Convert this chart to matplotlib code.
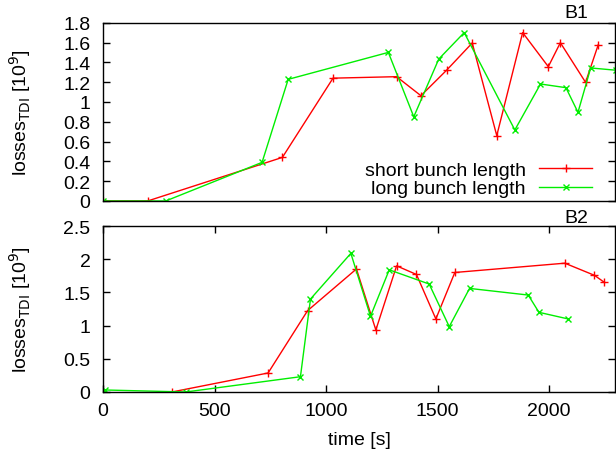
import matplotlib
matplotlib.use("Agg")
import matplotlib.pyplot as plt

plt.rcParams['font.family'] = ['Liberation Sans', 'DejaVu Sans']

# B1 data
b1_short_t = [0, 200, 804, 1031, 1316, 1425, 1540, 1655, 1765, 1881, 1996, 2050, 2163, 2220]
b1_short_v = [0, 0, 0.44, 1.24, 1.255, 1.063, 1.32, 1.595, 0.66, 1.70, 1.356, 1.598, 1.198, 1.578]
b1_long_t = [0, 281, 713, 830, 1279, 1393, 1505, 1619, 1846, 1961, 2075, 2129, 2186, 2300]
b1_long_v = [0, 0, 0.39, 1.228, 1.50, 0.85, 1.433, 1.70, 0.717, 1.181, 1.144, 0.895, 1.343, 1.32]

# B2 data
b2_short_t = [309, 740, 917, 1136, 1223, 1316, 1405, 1492, 1577, 2070, 2203, 2247]
b2_short_v = [0, 0.286, 1.225, 1.853, 0.934, 1.90, 1.77, 1.10, 1.80, 1.94, 1.757, 1.652]
b2_long_t = [8, 371, 885, 930, 1111, 1199, 1283, 1462, 1552, 1643, 1906, 1954, 2085]
b2_long_v = [0.03, 0, 0.23, 1.40, 2.088, 1.14, 1.84, 1.626, 0.984, 1.56, 1.46, 1.20, 1.10]

red = '#ff0000'
green = '#00ee00'
fs = 14

fig = plt.figure(figsize=(6.16, 4.6), dpi=100)
ax1 = fig.add_axes([0.1672, 0.5609, 0.8312, 0.3876])
ax2 = fig.add_axes([0.1672, 0.1457, 0.8312, 0.3608])

ax1.plot(b1_short_t, b1_short_v, color=red, lw=1, marker='+', ms=6, mew=1, label='short bunch length')
ax1.plot(b1_long_t, b1_long_v, color=green, lw=1, marker='x', ms=5, mew=1, label='long bunch length')
ax2.plot(b2_short_t, b2_short_v, color=red, lw=1, marker='+', ms=6, mew=1)
ax2.plot(b2_long_t, b2_long_v, color=green, lw=1, marker='x', ms=5, mew=1)

xmax = 2295
ax1.set_xlim(0, xmax)
ax2.set_xlim(0, xmax)
ax1.set_ylim(0, 1.8)
ax2.set_ylim(0, 2.5)

ax1.set_yticks([0, 0.2, 0.4, 0.6, 0.8, 1, 1.2, 1.4, 1.6, 1.8])
ax1.set_yticklabels(['0', '0.2', '0.4', '0.6', '0.8', '1', '1.2', '1.4', '1.6', '1.8'])
ax1.set_xticks([])
ax2.set_yticks([0, 0.5, 1, 1.5, 2, 2.5])
ax2.set_yticklabels(['0', '0.5', '1', '1.5', '2', '2.5'])
ax2.set_xticks([0, 500, 1000, 1500, 2000])

for ax in (ax1, ax2):
    ax.tick_params(direction='in', length=5, width=1, labelsize=fs, right=True, pad=9)
    for s in ax.spines.values():
        s.set_linewidth(1)
    ax.set_ylabel(r'losses$_{\mathrm{TDI}}$ [10$^9$]', fontsize=fs)
ax2.tick_params(top=True, axis='x', pad=7)

ax1.yaxis.set_label_coords(-0.137, 0.5)
ax2.yaxis.set_label_coords(-0.137, 0.5)
ax2.set_xlabel('time [s]', fontsize=fs, labelpad=9)

ax1.text(0.924, 1.01, 'B1', transform=ax1.transAxes, fontsize=fs, ha='center', va='bottom')
ax2.text(0.924, 1.0, 'B2', transform=ax2.transAxes, fontsize=fs, ha='center', va='bottom')

ax1.legend(loc='lower right', bbox_to_anchor=(0.955, 0.02), frameon=False, fontsize=fs,
           markerfirst=False, handlelength=2.7, handletextpad=0.7, labelspacing=0.05,
           borderpad=0, borderaxespad=0)

fig.savefig('out.png', dpi=100)
